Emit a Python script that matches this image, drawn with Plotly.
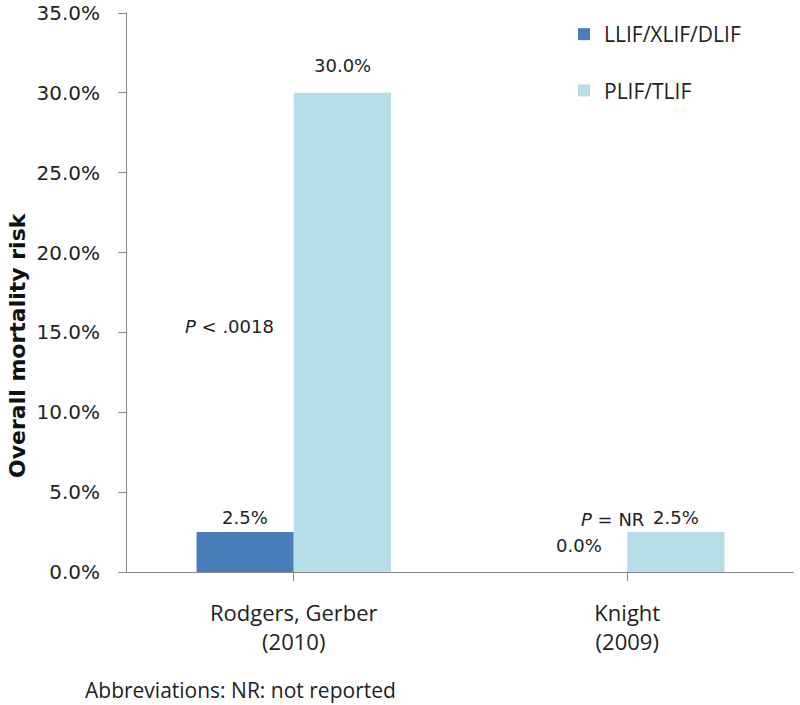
import plotly.graph_objects as go

categories = ["Rodgers, Gerber", "Knight"]
years = ["(2010)", "(2009)"]
series_names = ["LLIF/XLIF/DLIF", "PLIF/TLIF"]
llif_values = [0.025, 0.0]
plif_values = [0.30, 0.025]
p_texts = ["<i>P</i> < .0018", "<i>P</i> = NR"]
p_y = [0.154, 0.033]
y_ticks = [0, 0.05, 0.10, 0.15, 0.20, 0.25, 0.30, 0.35]

colors = ["#4A7EBB", "#B7DDE8"]
BARGAP = 0.417
bw = (1 - BARGAP) / 2

OFF = 0  # page body margin removed via post_script
W, H = 800, 705
# desired page-pixel plot box
PX_L, PX_R, PX_T, PX_B = 127, 794, 13, 572
L = PX_L - OFF
R = W - (PX_R - OFF)
T = PX_T - OFF
B = H - (PX_B - OFF)
pw = W - L - R
ph = H - T - B


def px_x(x):
    return (x - PX_L) / pw


def px_y(y):
    return (PX_B - y) / ph


fig = go.Figure()
for name, vals, col in zip(series_names, [llif_values, plif_values], colors):
    fig.add_trace(go.Bar(x=list(range(len(categories))), y=vals, name=name,
                         marker=dict(color=col, line=dict(width=0)),
                         legendgroup=name))

annotations = []
label_shift = {(0, 0): 2, (0, 1): 14, (1, 0): 15, (1, 1): 2}
for s, vals in enumerate([llif_values, plif_values]):
    for i, v in enumerate(vals):
        annotations.append(dict(x=i + (s - 0.5) * bw, y=v, xref="x", yref="y",
                                text=f"{v*100:.1f}%", showarrow=False,
                                xanchor="center", yanchor="bottom", yshift=label_shift[(s, i)],
                                font=dict(family="DejaVu Sans", size=18, color="#222")))
# p-value texts
annotations.append(dict(x=px_x(229), y=p_y[0], xref="paper", yref="y", text=p_texts[0],
                        xanchor="center", yanchor="middle",
                        showarrow=False, font=dict(family="DejaVu Sans", size=18, color="#222")))
annotations.append(dict(x=px_x(612), y=p_y[1], xref="paper", yref="y", text=p_texts[1],
                        xanchor="center", yanchor="middle",
                        showarrow=False, font=dict(family="DejaVu Sans", size=18, color="#222")))
# y title
annotations.append(dict(x=px_x(17), y=px_y(345), xref="paper", yref="paper",
                        xanchor="center", yanchor="middle",
                        text="<b>Overall mortality risk</b>", textangle=-90,
                        showarrow=False, font=dict(family="DejaVu Sans", size=22, color="#111")))
# footnote
annotations.append(dict(x=px_x(83), y=px_y(690), xref="paper", yref="paper",
                        text="Abbreviations: NR: not reported", xanchor="left", yanchor="middle",
                        showarrow=False, font=dict(family="Open Sans", size=21, color="#222")))

fig.update_layout(
    width=W, height=H,
    margin=dict(l=L, r=R, t=T, b=B, autoexpand=False),
    paper_bgcolor="white", plot_bgcolor="white",
    barmode="group", bargap=BARGAP, bargroupgap=0,
    showlegend=True,
    legend=dict(x=px_x(564), y=px_y(14), xanchor="left", yanchor="top", tracegroupgap=26,
                font=dict(family="Open Sans", size=21, color="#222"),
                bgcolor="rgba(0,0,0,0)"),
    xaxis=dict(tickmode="array", tickvals=list(range(len(categories))),
               ticktext=[f"{c}<br>{y}" for c, y in zip(categories, years)],
               range=[-0.5, 1.5], showline=True, linecolor="#868686", linewidth=1,
               ticks="outside", tickson="boundaries", ticklen=8, tickcolor="#868686",
               ticklabelstandoff=14,
               tickfont=dict(family="Open Sans", size=22, color="#222"),
               showgrid=False, zeroline=False),
    yaxis=dict(range=[0, 0.35], tickvals=y_ticks, tickformat=".1%",
               showline=True, linecolor="#868686", linewidth=1,
               ticks="outside", ticklen=8, tickcolor="#868686",
               ticklabelstandoff=14, ticklabeloverflow="allow",
               tickfont=dict(family="DejaVu Sans", size=20, color="#222"),
               showgrid=False, zeroline=False),
    annotations=annotations,
)

fig.write_html("out.html", config={"displayModeBar": False},
               post_script="document.body.style.margin='0px';document.body.style.overflow='hidden';")
